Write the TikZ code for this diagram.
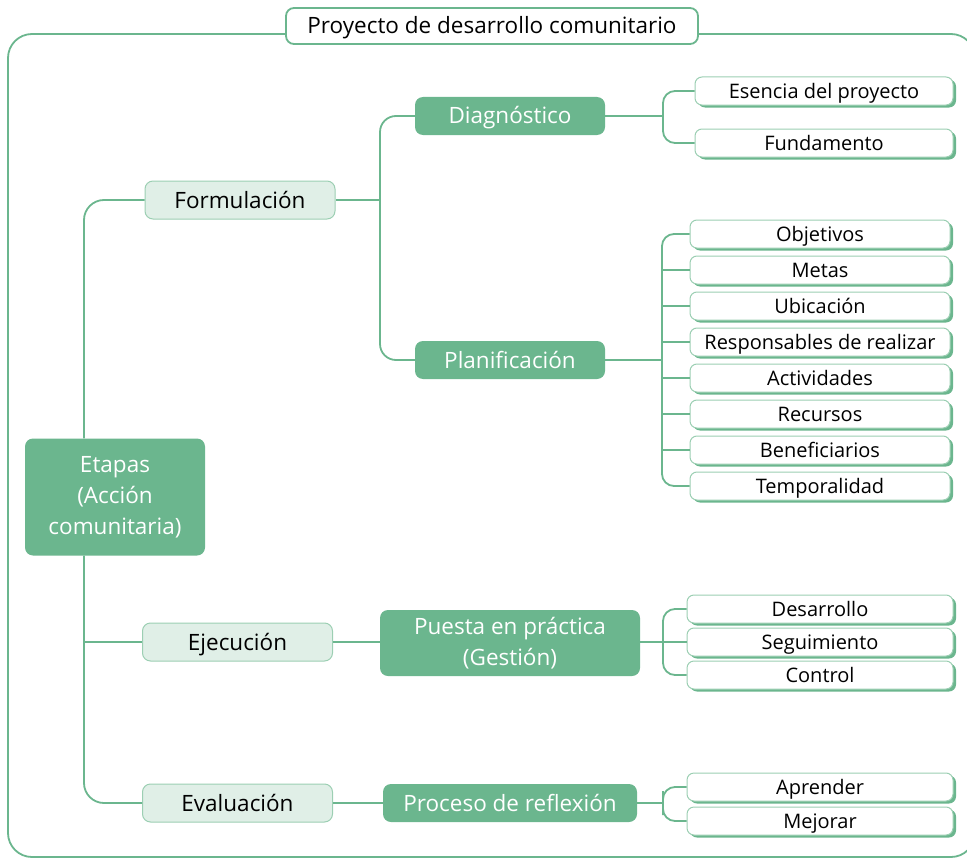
\documentclass[tikz,border=0pt]{standalone}
\usepackage{fontspec}
\setmainfont{Open Sans}
\usetikzlibrary{shadows}
\definecolor{verde}{HTML}{6BB68E}
\definecolor{verdeclaro}{HTML}{E0EFE7}
\definecolor{verdeborde}{HTML}{9CCFB3}

\begin{document}
\begin{tikzpicture}[x=1pt,y=-1pt,node distance=36pt]
  \tikzstyle{marco}=[draw=verde,line width=1.8pt,rounded corners=24pt]
  \tikzstyle{unalinea}=[text height=16pt,text depth=0pt,inner ysep=0pt]
  \tikzstyle{titulo}=[unalinea,draw=verde,line width=1.8pt,fill=white,rounded corners=8pt,minimum width=412pt,minimum height=36pt,font=\fontsize{22.5}{26}\selectfont]
  \tikzstyle{etapa}=[fill=verde,text=white,rounded corners=8pt,minimum width=180pt,minimum height=117pt,align=center,font=\fontsize{22.5}{31}\selectfont]
  \tikzstyle{fase}=[unalinea,draw=verdeborde,line width=1pt,fill=verdeclaro,rounded corners=8pt,minimum width=190pt,minimum height=38pt,font=\fontsize{22.5}{26}\selectfont]
  \tikzstyle{paso}=[fill=verde,text=white,rounded corners=8pt,minimum width=190pt,minimum height=38pt,align=center,font=\fontsize{22.5}{31}\selectfont]
  \tikzstyle{hoja}=[draw=verdeborde,line width=1pt,fill=white,rounded corners=7pt,minimum width=260pt,minimum height=28pt,inner sep=0pt,text height=14.3pt,text depth=0pt,font=\fontsize{20}{23}\selectfont,drop shadow={shadow xshift=3pt,shadow yshift=-2.5pt,fill=verde,opacity=1}]
  \tikzstyle{rama}=[draw=verde,line width=1.8pt]

  \useasboundingbox (0,0) rectangle (967,859);

  % marco y titulo
  \draw[marco] (8,34) rectangle (975,857);
  \node[titulo] (tit) at (492,26) {Proyecto de desarrollo comunitario};

  % etapas
  \node[etapa] (etapas) at (115,497) {Etapas\\(Acción\\comunitaria)};
  \node[fase] (form) at (240,200) {Formulación};
  \node[fase] (ejec) at (237.5,642) {Ejecución};
  \node[fase] (eval) at (237.5,803) {Evaluación};

  \node[paso,unalinea] (diag) at (510,116) {Diagnóstico};
  \node[paso,unalinea] (plan) at (510,360) {Planificación};
  \node[paso,minimum width=260pt,minimum height=66pt] (puesta) at (510,643) {Puesta en práctica\\(Gestión)};
  \node[paso,unalinea,minimum width=254pt] (proc) at (510,803) {Proceso de reflexión};

  % hojas diagnostico
  \node[hoja,minimum width=258pt] (esen) at (824,91) {Esencia del proyecto};
  \node[hoja,minimum width=258pt] (fund) [below of=esen,node distance=52pt] {Fundamento};

  % hojas planificacion
  \node[hoja] (obj) at (820,234) {Objetivos};
  \node[hoja] (met) [below of=obj] {Metas};
  \node[hoja] (ubi) [below of=met] {Ubicación};
  \node[hoja] (resp) [below of=ubi] {Responsables de realizar};
  \node[hoja] (act) [below of=resp] {Actividades};
  \node[hoja] (rec) [below of=act] {Recursos};
  \node[hoja] (ben) [below of=rec] {Beneficiarios};
  \node[hoja] (temp) [below of=ben] {Temporalidad};

  % hojas puesta en practica
  \node[hoja,minimum width=266pt] (desa) at (820,609) {Desarrollo};
  \node[hoja,minimum width=266pt] (segu) [below of=desa,node distance=33pt] {Seguimiento};
  \node[hoja,minimum width=266pt] (cont) [below of=segu,node distance=33pt] {Control};

  % hojas reflexion
  \node[hoja,minimum width=266pt] (apre) at (820,787) {Aprender};
  \node[hoja,minimum width=266pt] (mejo) [below of=apre,node distance=34pt] {Mejorar};

  % ramas
  \coordinate (et) at (84,495);
  \draw[rama,rounded corners=20pt] (form.west) -| (et |- etapas.north);
  \draw[rama,rounded corners=20pt] (et |- etapas.south) |- (eval.west);
  \draw[rama] (et |- ejec.west) -- (ejec.west);

  \coordinate (fj) at (380,200);
  \draw[rama] (form.east) -- (fj);
  \draw[rama,rounded corners=16pt] (diag.west) -| (fj) |- (plan.west);
  \draw[rama] (ejec.east) -- (puesta.west |- ejec.east);
  \draw[rama] (eval.east) -- (proc.west);

  \coordinate (dj) at (663,116);
  \draw[rama] (diag.east) -- (dj);
  \draw[rama,rounded corners=12pt] (esen.west) -| (dj) |- (fund.west);

  \coordinate (pj) at (662,360);
  \draw[rama] (plan.east) -- (pj);
  \draw[rama,rounded corners=12pt] (obj.west) -| (pj) |- (temp.west);
  \foreach \n in {met,ubi,resp,act,rec,ben}
    \draw[rama] (pj |- \n.west) -- (\n.west);

  \coordinate (uj) at (663,642);
  \draw[rama] (puesta.east |- uj) -- (uj);
  \draw[rama,rounded corners=12pt] (desa.west) -| (uj) |- (cont.west);
  \draw[rama] (uj) -- (segu.west);

  \coordinate (rj) at (663,803);
  \draw[rama] (proc.east) -- (rj);
  \draw[rama,rounded corners=12pt] (apre.west) -| (rj) |- (mejo.west);
\end{tikzpicture}
\end{document}
